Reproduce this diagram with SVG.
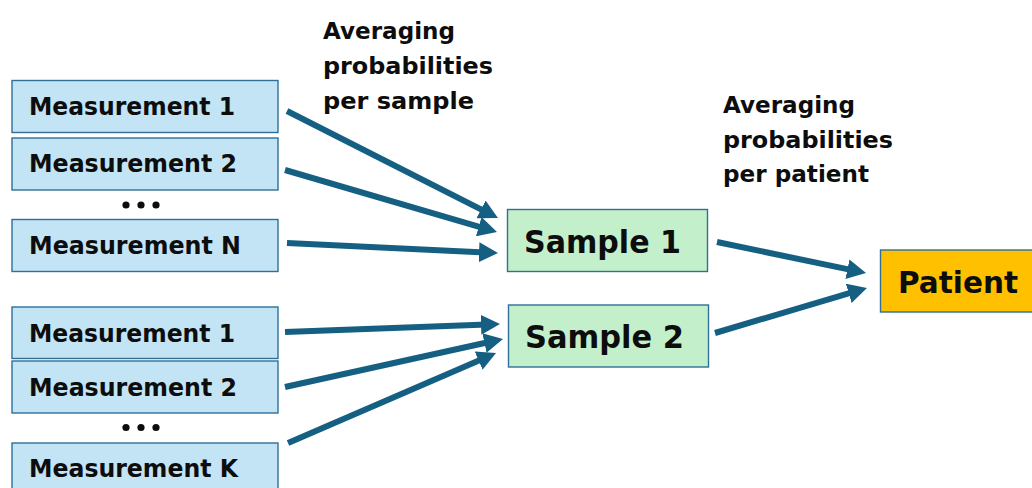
<svg xmlns="http://www.w3.org/2000/svg" width="1032" height="488" viewBox="0 0 1032 488">
  <style>
    text { font-family: "DejaVu Sans", "Liberation Sans", sans-serif; font-weight: 700; fill: #0d0d0d; }
    .meas rect { fill: #c3e4f5; stroke: #2f6f99; stroke-width: 1.4; }
    .meas text { font-size: 24.5px; }
    .sample rect { fill: #c3f0ca; stroke: #2f6f99; stroke-width: 1.4; }
    .sample text { font-size: 32px; }
    .patient rect { fill: #ffc000; stroke: #2f6f99; stroke-width: 1.4; }
    .patient text { font-size: 31px; }
    .label { font-size: 23.5px; }
    .dots circle { fill: #0d0d0d; }
    #connectors line { stroke: #156082; stroke-width: 6; fill: none; marker-end: url(#head); }
  </style>
  <defs>
    <marker id="head" markerUnits="userSpaceOnUse" markerWidth="19" markerHeight="20" refX="6" refY="10" orient="auto">
      <path d="M0,0 L19,10 L0,20 Z" fill="#156082"/>
    </marker>
  </defs>

  <rect width="1032" height="488" fill="#ffffff"/>

  <!-- group 1: measurements feeding Sample 1 -->
  <g id="m1a" class="meas">
    <rect x="12" y="80.5" width="266" height="52"/>
    <text x="29" y="115" textLength="206" lengthAdjust="spacingAndGlyphs">Measurement 1</text>
  </g>
  <g id="m2a" class="meas">
    <rect x="12" y="138" width="266" height="52"/>
    <text x="29" y="171.5" textLength="208" lengthAdjust="spacingAndGlyphs">Measurement 2</text>
  </g>
  <g id="dots-a" class="dots">
    <circle cx="126" cy="205" r="3.6"/>
    <circle cx="141" cy="205" r="3.6"/>
    <circle cx="156" cy="205" r="3.6"/>
  </g>
  <g id="mNa" class="meas">
    <rect x="12" y="219.5" width="266" height="52"/>
    <text x="29" y="254" textLength="212" lengthAdjust="spacingAndGlyphs">Measurement N</text>
  </g>

  <!-- group 2: measurements feeding Sample 2 -->
  <g id="m1b" class="meas">
    <rect x="12" y="307" width="266" height="51.5"/>
    <text x="29" y="341.5" textLength="206" lengthAdjust="spacingAndGlyphs">Measurement 1</text>
  </g>
  <g id="m2b" class="meas">
    <rect x="12" y="361" width="266" height="52"/>
    <text x="29" y="396" textLength="208" lengthAdjust="spacingAndGlyphs">Measurement 2</text>
  </g>
  <g id="dots-b" class="dots">
    <circle cx="126" cy="427.5" r="3.6"/>
    <circle cx="141" cy="427.5" r="3.6"/>
    <circle cx="156" cy="427.5" r="3.6"/>
  </g>
  <g id="mKb" class="meas">
    <rect x="12" y="443" width="266" height="52"/>
    <text x="29" y="476.5" textLength="209" lengthAdjust="spacingAndGlyphs">Measurement K</text>
  </g>

  <!-- samples -->
  <g id="sample1" class="sample">
    <rect x="507.5" y="209.5" width="200" height="62"/>
    <text x="524" y="252.5" textLength="157" lengthAdjust="spacingAndGlyphs">Sample 1</text>
  </g>
  <g id="sample2" class="sample">
    <rect x="508.5" y="305" width="200" height="62"/>
    <text x="525" y="347.5" textLength="159" lengthAdjust="spacingAndGlyphs">Sample 2</text>
  </g>

  <!-- patient -->
  <g id="patient" class="patient">
    <rect x="880.5" y="250" width="170" height="62"/>
    <text x="898" y="293" textLength="120" lengthAdjust="spacingAndGlyphs">Patient</text>
  </g>

  <!-- step labels -->
  <g id="label-sample">
    <text class="label" x="323" y="39" textLength="132" lengthAdjust="spacingAndGlyphs">Averaging</text>
    <text class="label" x="323" y="74" textLength="170" lengthAdjust="spacingAndGlyphs">probabilities</text>
    <text class="label" x="323" y="109" textLength="151" lengthAdjust="spacingAndGlyphs">per sample</text>
  </g>
  <g id="label-patient">
    <text class="label" x="723" y="113" textLength="132" lengthAdjust="spacingAndGlyphs">Averaging</text>
    <text class="label" x="723" y="147.5" textLength="170" lengthAdjust="spacingAndGlyphs">probabilities</text>
    <text class="label" x="723" y="182" textLength="146" lengthAdjust="spacingAndGlyphs">per patient</text>
  </g>

  <!-- connectors: each line ends 13px short of the arrow tip; the marker supplies the tip -->
  <g id="connectors">
    <line x1="287" y1="111" x2="486.4" y2="212.1"/>
    <line x1="285" y1="170" x2="484.5" y2="228.3"/>
    <line x1="287" y1="243" x2="485" y2="252.4"/>
    <line x1="285" y1="332" x2="487" y2="324.5"/>
    <line x1="285" y1="387" x2="490.3" y2="341.8"/>
    <line x1="288" y1="443" x2="484.1" y2="358.2"/>
    <line x1="717" y1="242" x2="853.3" y2="270.4"/>
    <line x1="715" y1="333" x2="854.5" y2="291.7"/>
  </g>
</svg>
